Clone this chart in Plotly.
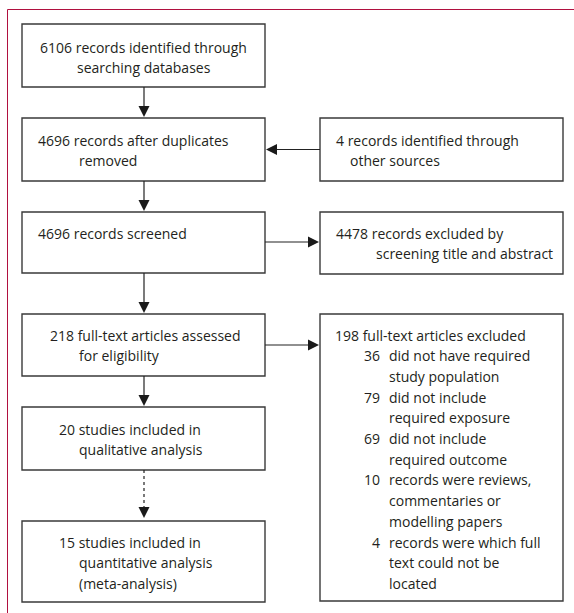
import plotly.graph_objects as go

# ---- content (data) ----
left_box_lines = [
    ["6106 records identified through", "searching databases"],
    ["4696 records after duplicates", "removed"],
    ["4696 records screened"],
    ["218 full-text articles assessed", "for eligibility"],
    ["20 studies included in", "qualitative analysis"],
    ["15 studies included in", "quantitative analysis", "(meta-analysis)"],
]
right_box_lines = [
    ["4 records identified through", "other sources"],
    ["4478 records excluded by", "screening title and abstract"],
]
excluded_header = "198 full-text articles excluded"
exclusion_counts = ["36", "79", "69", "10", "4"]
exclusion_reasons = [
    ["did not have required", "study population"],
    ["did not include", "required exposure"],
    ["did not include", "required outcome"],
    ["records were reviews,", "commentaries or", "modelling papers"],
    ["records were which full", "text could not be", "located"],
]

# ---- layout geometry ----
W, H = 574, 613
LX0, LX1 = 22, 265
RX0, RX1 = 320, 563
CX = 144
left_y = [(24, 87), (118, 181), (212, 273), (314, 376), (407, 470), (521, 602)]
right_y = [(118, 181), (212, 274), (314, 601)]
# (first-line x, other-lines x, first-line y, align)
left_text_pos = [(143.5, 143.5, 47, "center"), (36, 77, 140, "left"), (36, 77, 233, "left"),
                 (48, 77, 335, "left"), (57, 77, 429, "left"), (57, 77, 542, "left")]
right_text_pos = [(334, 348, 140), (334, 374, 233)]
LS = 20.7
FONT = dict(family="'Open Sans', sans-serif", size=14, color="#231f20")
EDGE = "#3a3a3a"
FRAME = "#b0103f"

fig = go.Figure()
fig.add_trace(go.Scatter(x=[0, W], y=[0, H], mode="markers", marker=dict(opacity=0), hoverinfo="skip", showlegend=False))

shapes = []
annotations = []

def box(x0, x1, y0, y1):
    shapes.append(dict(type="rect", x0=x0, x1=x1, y0=y0, y1=y1, line=dict(color=EDGE, width=1.4), fillcolor="white", layer="below"))

def txt(x, y, s, anchor="left"):
    annotations.append(dict(x=x, y=y, text=s, showarrow=False, xanchor=anchor, yanchor="middle", font=FONT))

def vline(x, y0, y1, dash="solid"):
    shapes.append(dict(type="line", x0=x, x1=x, y0=y0, y1=y1, line=dict(color="#222", width=1.2, dash=dash)))

def hline(y, x0, x1):
    shapes.append(dict(type="line", x0=x0, x1=x1, y0=y, y1=y, line=dict(color="#222", width=1.2)))

def head_down(x, ytip):
    shapes.append(dict(type="path", path=f"M {x-5.5} {ytip-11} L {x+5.5} {ytip-11} L {x} {ytip} Z", fillcolor="#1a1a1a", line=dict(width=0)))

def head_h(xtip, y, direction):
    b = xtip - 11 * direction
    shapes.append(dict(type="path", path=f"M {b} {y-5.5} L {b} {y+5.5} L {xtip} {y} Z", fillcolor="#1a1a1a", line=dict(width=0)))

# frame (top and left rule)
shapes.append(dict(type="line", x0=7.5, x1=W, y0=9.5, y1=9.5, line=dict(color=FRAME, width=1)))
shapes.append(dict(type="line", x0=7.5, x1=7.5, y0=9.5, y1=H, line=dict(color=FRAME, width=1)))

# left boxes
for (y0, y1), lines, (fx, ox, fy, al) in zip(left_y, left_box_lines, left_text_pos):
    box(LX0, LX1, y0, y1)
    for i, s in enumerate(lines):
        x = fx if i == 0 else ox
        txt(x, fy + i * LS, s, "center" if al == "center" else "left")

# right boxes
for (y0, y1) in right_y:
    box(RX0, RX1, y0, y1)
for lines, (fx, ox, fy) in zip(right_box_lines, right_text_pos):
    for i, s in enumerate(lines):
        txt(fx if i == 0 else ox, fy + i * LS, s)

# exclusion box content
y = 335
txt(333, y, excluded_header)
y += LS
for c, reason in zip(exclusion_counts, exclusion_reasons):
    txt(382, y, c, "right")
    for j, s in enumerate(reason):
        txt(387, y, s)
        y += LS

# vertical arrows
for i in range(4):
    top = left_y[i][1]
    tip = left_y[i + 1][0]
    vline(CX, top, tip - 10)
    head_down(CX, tip - 1)
vline(CX, left_y[4][1], left_y[5][0] - 10, dash="3px,3px")
head_down(CX, left_y[5][0] - 3)

# horizontal arrows
hline(149.5, LX1 + 10, RX0)
head_h(LX1 + 1, 149.5, -1)
hline(242, LX1, RX0 - 10)
head_h(RX0 - 1, 242, 1)
hline(345, LX1, RX0 - 10)
head_h(RX0 - 1, 345, 1)

fig.update_layout(
    width=W, height=H, margin=dict(l=0, r=0, t=0, b=0),
    paper_bgcolor="white", plot_bgcolor="white",
    xaxis=dict(range=[0, W], visible=False, fixedrange=True),
    yaxis=dict(range=[H, 0], visible=False, fixedrange=True),
    shapes=shapes, annotations=annotations, showlegend=False,
)
fig.write_html("out.html", config={"displayModeBar": False},
               post_script="document.body.style.margin='0px';document.body.style.padding='0px';document.body.style.overflow='hidden';")
